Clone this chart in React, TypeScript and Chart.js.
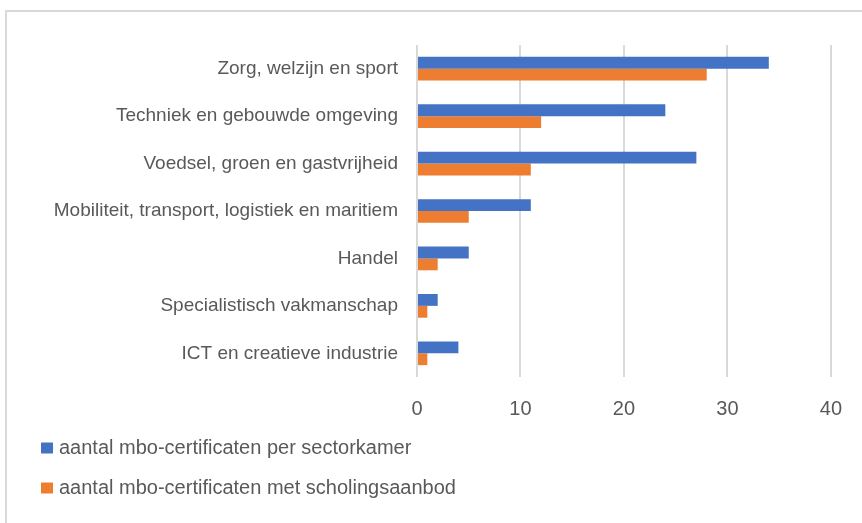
import React, { useEffect, useRef } from "react";
import { Chart, registerables } from "chart.js";

Chart.register(...registerables);

const categories = [
  "Zorg, welzijn en sport",
  "Techniek en gebouwde omgeving",
  "Voedsel, groen en gastvrijheid",
  "Mobiliteit, transport, logistiek en maritiem",
  "Handel",
  "Specialistisch vakmanschap",
  "ICT en creatieve industrie",
];
const perSectorkamer = [34, 24, 27, 11, 5, 2, 4];
const metScholingsaanbod = [28, 12, 11, 5, 2, 1, 1];
const seriesLabels = [
  "aantal mbo-certificaten per sectorkamer",
  "aantal mbo-certificaten met scholingsaanbod",
];
const xTicks = [0, 10, 20, 30, 40];

const FONT = "'Liberation Sans', Arial, sans-serif";
const TEXT = "#595959";

const legendPlugin = {
  id: "stackedLegend",
  afterDraw(chart: any) {
    const ctx = chart.ctx;
    ctx.save();
    const ys = [448, 488];
    chart.data.datasets.forEach((ds: any, i: number) => {
      const y = ys[i];
      ctx.fillStyle = ds.backgroundColor;
      ctx.fillRect(41, y - 5.5, 12, 11);
      ctx.fillStyle = TEXT;
      ctx.font = `20px ${FONT}`;
      ctx.textBaseline = "middle";
      ctx.textAlign = "left";
      ctx.fillText(ds.label, 59, y);
    });
    ctx.restore();
  },
};

export default function App() {
  const ref = useRef<HTMLCanvasElement>(null);
  useEffect(() => {
    document.body.style.margin = "0";
    const chart = new Chart(ref.current!, {
      type: "bar",
      data: {
        labels: categories,
        datasets: [
          {
            label: seriesLabels[0],
            data: perSectorkamer,
            backgroundColor: "#4472C4",
            borderWidth: 0,
            categoryPercentage: 0.5,
            barPercentage: 1,
          },
          {
            label: seriesLabels[1],
            data: metScholingsaanbod,
            backgroundColor: "#ED7D31",
            borderWidth: 0,
            categoryPercentage: 0.5,
            barPercentage: 1,
          },
        ],
      },
      options: {
        indexAxis: "y",
        responsive: false,
        animation: false,
        layout: { padding: { top: 45, right: 29, left: 0, bottom: 0 } },
        plugins: {
          legend: { display: false },
          tooltip: { enabled: false },
        },
        scales: {
          x: {
            min: xTicks[0],
            max: xTicks[xTicks.length - 1],
            afterBuildTicks: (s: any) => {
              s.ticks = xTicks.map((v) => ({ value: v }));
            },
            afterFit: (s: any) => {
              s.height = 146;
            },
            grid: { color: "#d9d9d9", lineWidth: 2, drawTicks: false },
            border: { display: false },
            ticks: {
              color: TEXT,
              font: { family: FONT, size: 20 },
              padding: 20,
            },
          },
          y: {
            afterFit: (s: any) => {
              s.width = 417;
            },
            grid: { display: false, drawTicks: false },
            border: { display: false },
            ticks: {
              color: TEXT,
              font: { family: FONT, size: 19 },
              padding: 19,
              autoSkip: false,
            },
          },
        },
      },
      plugins: [legendPlugin],
    });
    return () => chart.destroy();
  }, []);

  return (
    <div style={{ position: "absolute", left: 0, top: 0, width: 862, height: 523, overflow: "hidden", background: "#fff" }}>
      <div
        style={{
          position: "absolute",
          left: 5,
          top: 10,
          width: 900,
          height: 600,
          borderTop: "2px solid #d9d9d9",
          borderLeft: "2px solid #d9d9d9",
          boxSizing: "border-box",
        }}
      />
      <canvas ref={ref} width={862} height={523} style={{ position: "absolute", left: 0, top: 0 }} />
    </div>
  );
}
